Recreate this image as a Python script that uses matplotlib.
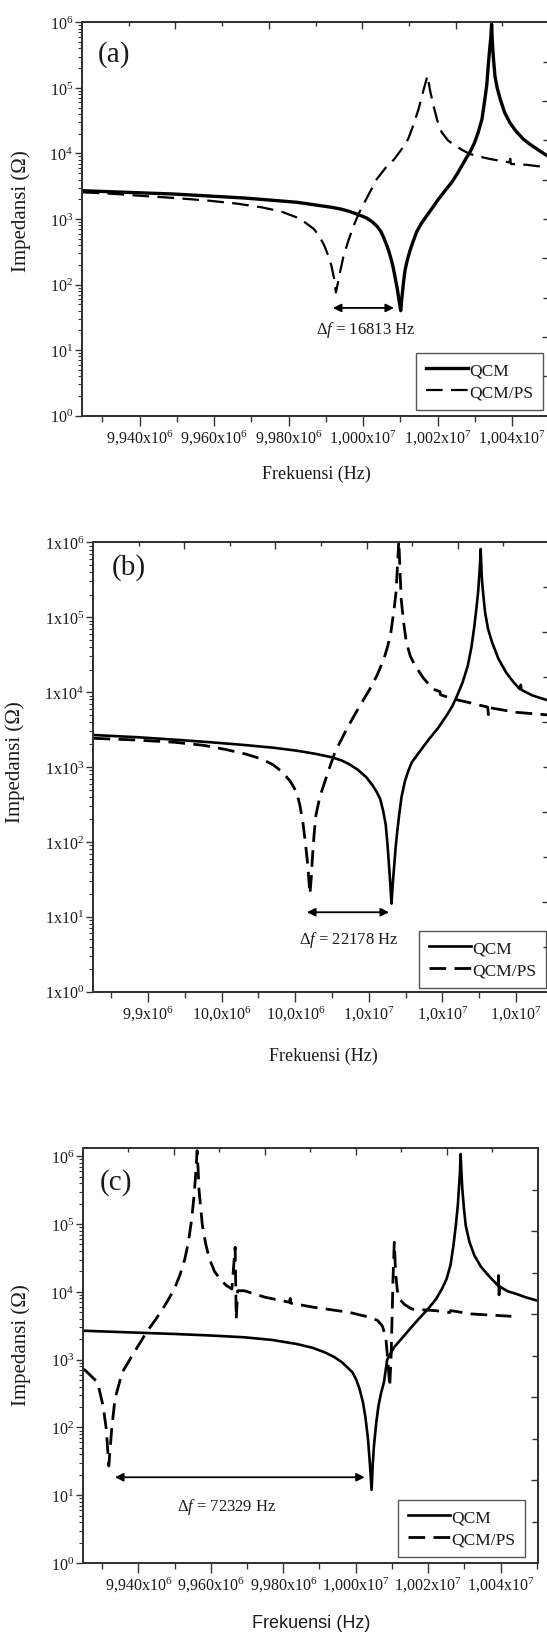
import matplotlib
matplotlib.use("Agg")
import matplotlib.pyplot as plt
from matplotlib.ticker import FixedLocator, NullFormatter, LogLocator, FixedFormatter

plt.rcParams['font.family'] = ['Liberation Serif', 'DejaVu Serif']
plt.rcParams['mathtext.fontset'] = 'custom'
plt.rcParams['mathtext.rm'] = 'Liberation Serif'
plt.rcParams['mathtext.it'] = 'Liberation Serif:italic'
plt.rcParams['mathtext.bf'] = 'Liberation Serif:bold'
plt.rcParams['lines.scale_dashes'] = False

# ---------------- data (frequency offset from 10 MHz in kHz, impedance in Ohm) --------
F0 = 10000000.0
# panel (a)
a_qcm_fk = [-75.3, -50.6, -31.9, -17.8, -8.5, -6.0, -3.8, -1.5, 0.9, 2.5, 3.7, 4.8, 5.6, 6.4,
            7.0, 7.6, 8.1, 8.7, 9.2, 9.7, 10.1, 10.5, 10.9, 11.3, 11.9, 12.6, 13.4, 14.4, 15.6,
            17.1, 18.6, 20.2, 22.0, 23.8, 25.2, 26.5, 27.7, 28.7, 29.9, 30.9, 31.9, 32.7, 33.2,
            33.6, 34.0, 34.3, 34.5, 34.7, 35.0, 35.4, 36.0, 36.8, 38.0, 39.4, 41.0, 43.0, 44.8,
            46.6, 48.0, 49.3, 50.0]
a_qcm_z = [2700, 2400, 2090, 1800, 1510, 1420, 1310, 1180, 1040, 900, 780, 640, 510, 390, 310,
           235, 180, 120, 85, 55, 40, 70, 115, 170, 240, 330, 450, 640, 850, 1122, 1480, 1995,
           2700, 3631, 4800, 6457, 8500, 10470, 14500, 20890, 33000, 67600, 110000, 218800,
           400000, 600000, 933000, 500000, 280000, 151400, 100000, 67600, 42000, 29510, 22000,
           16600, 13800, 11750, 10400, 9333, 9200]
a_ps_fk = [-75.3, -67.0, -60.0, -50.0, -41.3, -34.0, -27.2, -22.0, -17.9, -15.5, -13.2, -11.7,
           -10.4, -9.4, -8.5, -7.8, -7.3, -6.7, -6.2, -5.2, -3.8, -2.5, -1.0, 1.2, 3.7, 6.0,
           8.4, 10.3, 12.1, 13.6, 14.9, 16.3, 17.3, 18.0, 18.9, 19.9, 21.1, 22.8, 24.7, 26.7,
           28.7, 31.4, 34.1, 36.8, 39.3, 39.5, 39.7, 44.0, 49.3, 50.0]
a_ps_z = [2553, 2420, 2265, 2080, 1901, 1720, 1507, 1300, 1062, 880, 703, 540, 392, 280, 194,
          125, 76, 110, 154, 280, 495, 800, 1265, 2200, 4074, 6000, 8222, 11500, 16600, 28000,
          47640, 96160, 153100, 90000, 53460, 32000, 20990, 15800, 13120, 11200, 9795, 8900,
          8222, 7700, 7311, 8300, 6900, 6700, 6138, 6100]

# panel (b)
b_qcm_fk = [-74.8, -63.0, -52.8, -43.0, -33.9, -26.0, -19.6, -14.5, -10.1, -7.5, -5.4, -3.0,
            -0.65, 0.9, 2.2, 3.1, 3.9, 4.6, 5.1, 5.5, 5.85, 6.17, 6.5, 6.9, 7.3, 7.7, 8.3, 8.9,
            9.8, 10.7, 11.7, 13.8, 16.4, 18.8, 21.1, 22.7, 24.0, 25.5, 26.9, 27.9, 28.7, 29.3,
            29.7, 30.2, 30.4, 30.6, 30.8, 31.2, 31.6, 32.4, 33.5, 35.2, 37.3, 39.2, 41.0, 41.3,
            41.5, 44.5, 48.97]
b_qcm_z = [2673, 2500, 2317, 2140, 1968, 1810, 1652, 1500, 1349, 1230, 1096, 920, 728, 580, 459,
           374, 260, 170, 90, 48, 27, 15, 27, 48, 85, 134, 240, 400, 640, 880, 1156, 1600, 2366,
           3300, 4842, 6500, 8954, 13500, 22490, 40000, 76910, 140000, 214800, 487500, 814700,
           450000, 292400, 180000, 116100, 70000, 46240, 28000, 18370, 13800, 10990, 12500,
           10700, 9000, 7674]
b_ps_fk = [-74.8, -63.0, -52.8, -45.0, -38.6, -33.5, -29.1, -26.0, -23.4, -21.3, -19.6, -18.7,
           -17.9, -17.25, -16.6, -16.0, -15.6, -15.35, -14.9, -14.4, -13.3, -12.0, -10.6, -9.2,
           -6.8, -4.5, -2.1, 0.3, 2.3, 4.1, 5.2, 6.0, 6.8, 7.4, 7.9, 8.15, 8.5, 8.8, 9.4, 10.2,
           11.3, 12.6, 14.8, 17.4, 19.3, 19.5, 23.0, 27.5, 32.3, 32.5, 32.7, 40.1, 48.97]
b_ps_z = [2415, 2290, 2138, 1950, 1702, 1490, 1279, 1070, 849, 640, 459, 304, 180, 99, 50, 20,
          35, 59, 120, 224, 400, 625, 1000, 1570, 2700, 4375, 7000, 10990, 17000, 27670, 42000,
          62810, 120000, 214800, 598400, 1050000, 400000, 175000, 90000, 46240, 30000, 22490,
          15500, 10990, 10200, 9200, 8091, 7200, 6300, 5000, 6200, 5370, 4943]

# panel (c)
c_qcm_fk = [-75.4, -63.0, -50.1, -40.0, -30.8, -23.0, -16.3, -12.0, -8.6, -6.0, -3.8, -2.2,
            -0.9, 0.06, 1.0, 2.0, 2.7, 3.4, 3.9, 4.39, 4.7, 5.05, 5.7, 6.3, 7.0, 7.8, 8.7, 10.5,
            12.6, 15.0, 17.4, 20.0, 22.2, 23.8, 25.1, 26.2, 27.0, 27.7, 28.2, 28.8, 28.98, 29.2,
            29.45, 29.9, 30.4, 31.4, 32.8, 34.6, 36.7, 39.3, 39.45, 39.6, 39.75, 42.0, 44.4,
            47.0, 50.2]
c_qcm_z = [2673, 2530, 2393, 2270, 2138, 1950, 1702, 1500, 1285, 1100, 914, 760, 650, 519, 380,
           235, 140, 67, 30, 12, 28, 54, 120, 209, 320, 463, 1000, 1500, 2018, 2850, 3981,
           5600, 7852, 11000, 15490, 25000, 48080, 100000, 187100, 580700, 1081000, 600000,
           329600, 170000, 94840, 55000, 34200, 23500, 17340, 12400, 17500, 9000, 12000, 10200,
           9311, 8300, 7413]
c_ps_fk = [-75.1, -71.3, -69.8, -68.9, -68.2, -67.4, -66.5, -64.5, -62.8, -61.2, -59.5, -57.8,
           -55.9, -53.9, -52.0, -50.1, -48.6, -47.2, -46.2, -45.3, -44.7, -44.3, -43.8, -43.5,
           -43.3, -42.8, -42.35, -41.4, -40.4, -39.0, -37.5, -35.8, -34.2, -33.3, -33.0, -32.6,
           -30.8, -25.0, -18.3, -18.1, -17.9, -11.5, -1.9, 3.9, 6.0, 7.3, 8.3, 9.0, 9.4, 9.8,
           10.3, 10.66, 11.0, 11.5, 12.1, 13.5, 15.5, 22.2, 26.0, 26.2, 31.9, 43.0]
c_ps_z = [728, 463, 209, 95, 27, 95, 263, 650, 920, 1285, 1800, 2535, 3500, 5000, 7300, 11020,
          17500, 30550, 55000, 118900, 250000, 462400, 1211000, 600000, 329600, 170000, 94840,
          50000, 30550, 20000, 15490, 12500, 11020, 45500, 3981, 10400, 10400, 8318, 7015,
          8000, 6800, 5916, 5000, 4217, 3800, 3170, 2200, 800, 400, 1200, 15000, 53830, 20000,
          10500, 7852, 6500, 5585, 5272, 4950, 5300, 4721, 4365]

annot_text = ["16813", "22178", "72329"]
arrow_a_fk = [-8.1, 8.3, 44]
arrow_b_fk = [-16.8, 5.5, 11.5]
arrow_c_fk = [-66.5, 2.5, 18.4]

x_ticks_fk = [-60, -40, -20, 0, 20, 40]
x_minor_fk = [-70, -50, -30, -10, 10, 30, 50]
xlab_ac = ["9,940x10$^{6}$", "9,960x10$^{6}$", "9,980x10$^{6}$",
           "1,000x10$^{7}$", "1,002x10$^{7}$", "1,004x10$^{7}$"]
xlab_b = ["9,9x10$^{6}$", "10,0x10$^{6}$", "10,0x10$^{6}$",
          "1,0x10$^{7}$", "1,0x10$^{7}$", "1,0x10$^{7}$"]
y_ticks = [1, 10, 100, 1000, 10000, 100000, 1000000]
ylab_ac = ["10$^{%d}$" % i for i in range(7)]
ylab_b = ["1x10$^{%d}$" % i for i in range(7)]


def hz(lst):
    return [F0 + v * 1000.0 for v in lst]


W, H = 547, 1633
fig = plt.figure(figsize=(W / 100, H / 100), dpi=100)
TXT = '#1a1a1a'
SP = '#333333'
DASH = (12, 6)


def px_axes(l, r, t, b):
    return fig.add_axes([l / W, 1 - b / H, (r - l) / W, (b - t) / H])


def setup(ax, xlim_fk, ylim, xlabels, ylabels, label, lab_xy):
    ax.set_yscale('log')
    ax.set_xlim(*hz(xlim_fk))
    ax.set_ylim(*ylim)
    ax.xaxis.set_major_locator(FixedLocator(hz(x_ticks_fk)))
    ax.xaxis.set_major_formatter(FixedFormatter(xlabels))
    ax.xaxis.set_minor_locator(FixedLocator(hz(x_minor_fk)))
    ax.yaxis.set_major_locator(FixedLocator(y_ticks))
    ax.yaxis.set_major_formatter(FixedFormatter(ylabels))
    ax.yaxis.set_minor_locator(LogLocator(base=10, subs=range(2, 10), numticks=30))
    ax.yaxis.set_minor_formatter(NullFormatter())
    ax.tick_params(axis='x', which='major', direction='out', length=7, width=1.0,
                   pad=1.5, labelsize=11.5, colors=SP, labelcolor=TXT)
    ax.tick_params(axis='x', which='minor', direction='out', length=4, width=1.0, colors=SP)
    ax.tick_params(axis='y', which='major', direction='out', length=5, width=1.0,
                   pad=1.5, labelsize=11.5, colors=SP, labelcolor=TXT)
    ax.tick_params(axis='y', which='minor', direction='out', length=3, width=0.8, colors=SP)
    for s in ax.spines.values():
        s.set_color(SP)
        s.set_linewidth(1.2)
    t = ax.twiny()
    t.set_xlim(0, 1)
    t.xaxis.set_major_locator(FixedLocator([0.2, 0.4, 0.6, 0.8]))
    t.xaxis.set_minor_locator(FixedLocator([0.1, 0.3, 0.5, 0.7, 0.9]))
    t.xaxis.set_major_formatter(NullFormatter())
    t.tick_params(axis='x', which='major', direction='in', length=5, width=1.0, colors=SP)
    t.tick_params(axis='x', which='minor', direction='in', length=3, width=1.0, colors=SP)
    r = ax.twinx()
    r.set_ylim(0, 1)
    r.yaxis.set_major_locator(FixedLocator([0.2, 0.4, 0.6, 0.8]))
    r.yaxis.set_minor_locator(FixedLocator([0.1, 0.3, 0.5, 0.7, 0.9]))
    r.yaxis.set_major_formatter(NullFormatter())
    r.tick_params(axis='y', which='major', direction='in', length=5, width=1.0, colors=SP)
    r.tick_params(axis='y', which='minor', direction='in', length=4, width=1.0, colors=SP)
    for a2 in (t, r):
        for s in a2.spines.values():
            s.set_color(SP)
            s.set_linewidth(1.2)
    fig.text(lab_xy[0] / W, 1 - lab_xy[1] / H, label, fontsize=21, color=TXT,
             ha='left', va='center')


def legend(ax, right, bottom):
    leg = ax.legend(loc='lower right', bbox_to_anchor=(right / W, 1 - bottom / H),
                    bbox_transform=fig.transFigure, borderaxespad=0, fancybox=False,
                    edgecolor='#555555', fontsize=12.5, handlelength=2.4, handletextpad=0.1,
                    borderpad=0.55, labelspacing=0.35, framealpha=1)
    leg.get_frame().set_linewidth(1.0)
    for t in leg.get_texts():
        t.set_color(TXT)
    return leg


def arrow(ax, spec, txt, tfk, tz):
    f1, f2, z = spec
    ax.annotate('', xy=(F0 + f2 * 1000, z), xytext=(F0 + f1 * 1000, z),
                arrowprops=dict(arrowstyle='<|-|>', color='black', lw=1.3,
                                mutation_scale=12, shrinkA=0, shrinkB=0))
    ax.text(F0 + tfk * 1000, tz, r'$\mathit{\Delta f}$ = ' + txt + ' Hz', fontsize=12,
            color=TXT, ha='center', va='center')


def ylabel(x, y):
    fig.text(x / W, 1 - y / H, 'Impedansi (Ω)', rotation=90, ha='center', va='center',
             fontsize=15, color=TXT)


# ---------------- panel (a) ----------------
axa = px_axes(82, 549, 23.3, 416.7)
axa.plot(hz(a_qcm_fk), a_qcm_z, color='black', lw=2.4, label='QCM', zorder=3)
axa.plot(hz(a_ps_fk), a_ps_z, color='black', lw=1.6, dashes=DASH, label='QCM/PS', zorder=3)
setup(axa, (-75.46, 49.91), (1, 1e6), xlab_ac, ylab_ac, '(a)', (98, 55))
legend(axa, 543, 411)
arrow(axa, arrow_a_fk, annot_text[0], 0.8, 21)
ylabel(21, 211)
fig.text(316 / W, 1 - 474 / H, 'Frekuensi (Hz)', ha='center', va='center',
         fontsize=13, color=TXT)

# ---------------- panel (b) ----------------
axb = px_axes(93, 549, 543.3, 992.7)
axb.plot(hz(b_qcm_fk), b_qcm_z, color='black', lw=1.9, label='QCM', zorder=3)
axb.plot(hz(b_ps_fk), b_ps_z, color='black', lw=2.0, dashes=DASH, label='QCM/PS', zorder=3)
setup(axb, (-74.95, 48.97), (1, 1e6), xlab_b, ylab_b, '(b)', (112, 568))
legend(axb, 546, 989)
arrow(axb, arrow_b_fk, annot_text[1], -5.4, 5.06)
ylabel(15, 762)
fig.text(323 / W, 1 - 1056 / H, 'Frekuensi (Hz)', ha='center', va='center',
         fontsize=13, color=TXT)

# ---------------- panel (c) ----------------
axc = px_axes(83, 537.5, 1149.3, 1564)
axc.plot(hz(c_qcm_fk), c_qcm_z, color='black', lw=1.9, label='QCM', zorder=3)
axc.plot(hz(c_ps_fk), c_ps_z, color='black', lw=2.0, dashes=DASH, label='QCM/PS', zorder=3)
setup(axc, (-75.33, 50.22), (1, 10 ** 6.118), xlab_ac, ylab_ac, '(c)', (100, 1183))
legend(axc, 525, 1558)
arrow(axc, arrow_c_fk, annot_text[2], -35.6, 7.0)
ylabel(21, 1345)
fig.text(311 / W, 1 - 1624 / H, 'Frekuensi (Hz)', ha='center', va='center',
         fontsize=13, color=TXT, family=['Liberation Sans', 'DejaVu Sans'])

fig.savefig('out.png', dpi=100, facecolor='white')
